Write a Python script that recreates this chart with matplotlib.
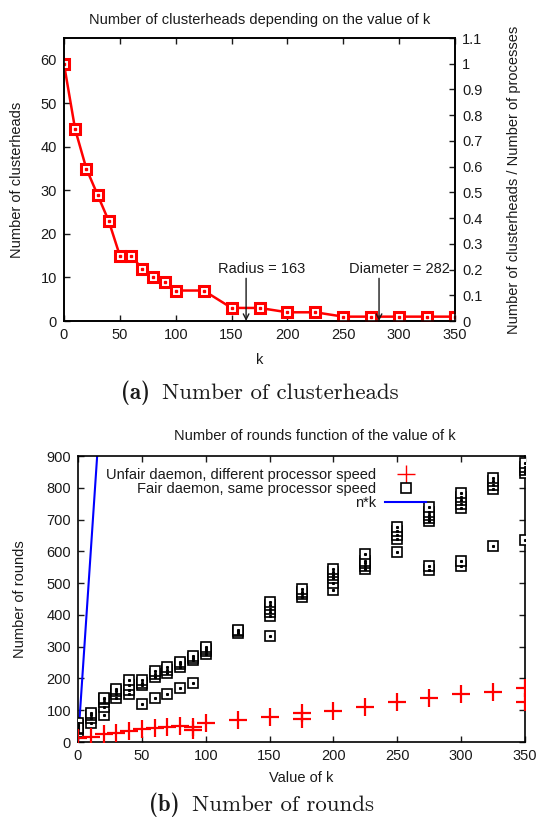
import matplotlib
matplotlib.use("Agg")
import matplotlib.pyplot as plt
from matplotlib.ticker import FormatStrFormatter

plt.rcParams['font.family'] = ['Liberation Sans', 'DejaVu Sans']

# top chart: clusterheads vs k
k_vals = [0, 10, 20, 30, 40, 50, 60, 70, 80, 90, 100, 125, 150, 175, 200, 225, 250, 275, 300, 325, 350]
clusterheads = [59, 44, 35, 29, 23, 15, 15, 12, 10, 9, 7, 7, 3, 3, 2, 2, 1, 1, 1, 1, 1]
radius = 163
diameter = 282

# bottom chart: rounds vs k
fair_k = [0, 10, 20, 30, 40, 50, 60, 70, 80, 90, 100, 125, 150, 175, 200, 225, 250, 275, 300, 325, 350]
fair_rounds = [
    [30, 40, 50, 55, 60, 45],
    [60, 75, 85, 90],
    [85, 110, 125, 135, 140],
    [140, 150, 160, 168],
    [150, 165, 178, 195],
    [120, 178, 185, 195],
    [140, 205, 215, 222],
    [150, 218, 228, 236],
    [170, 235, 245, 252],
    [185, 258, 265, 272],
    [278, 285, 292, 298],
    [343, 348, 352],
    [332, 395, 410, 420, 430, 440],
    [455, 465, 472, 480],
    [478, 500, 515, 525, 535, 545],
    [545, 555, 562, 570, 592],
    [598, 640, 652, 665, 678],
    [540, 555, 695, 705, 715, 725, 740],
    [553, 570, 735, 748, 760, 772, 782],
    [617, 795, 808, 820, 832],
    [636, 845, 855, 865, 878],
]
unfair_k = [0, 10, 20, 30, 40, 50, 60, 70, 80, 90, 90, 100, 125, 150, 175, 175, 200, 225, 250, 275, 300, 325, 350, 350]
unfair_rounds = [13, 16, 24, 29, 35, 40, 43, 47, 51, 38, 47, 60, 69, 79, 90, 72, 98, 111, 125, 139, 150, 158, 169, 127]
n_procs = 60

txt = '#1a1a1a'
fs = 10.5
fig = plt.figure(figsize=(5.36, 8.25), dpi=100)

def style(ax):
    ax.tick_params(direction='in', length=4, width=1, colors=txt, labelsize=fs, pad=5)
    for s in ax.spines.values():
        s.set_linewidth(1.2)

def caption(x_split, y, tag, rest):
    # bold tag + roman text, like a LaTeX subfigure caption
    fig.text((x_split - 6) / 536, 1 - y / 825, tag, family='cmb10', fontsize=16.5,
             ha='right', va='center', color=txt)
    fig.text((x_split + 6) / 536, 1 - y / 825, rest, family='cmr10', fontsize=16.5,
             ha='left', va='center', color=txt)

# ---- (a)
ax1 = fig.add_axes([64/536, 1-321/825, (455-64)/536, (321-38)/825])
ax1.plot(k_vals, clusterheads, color='red', lw=1.8, marker='s', ms=7.5, mfc='white', mec='red', mew=2.2, zorder=3)
ax1.plot(k_vals, clusterheads, ls='none', marker='s', ms=1.5, color='red', zorder=4)
ax1.set_xlim(0, 350)
ax1.set_ylim(0, 65)
ax1.set_xticks(range(0, 351, 50))
ax1.set_yticks(range(0, 61, 10))
ax1.tick_params(top=True)
style(ax1)
ax1.set_xlabel('k', fontsize=fs, color=txt, labelpad=8)
ax1.set_ylabel('Number of clusterheads', fontsize=fs, color=txt, labelpad=12)
ax1.set_title('Number of clusterheads depending on the value of k', fontsize=fs, color=txt, pad=10)

# radius / diameter markers: vertical arrows, label offset to the right
for val, name, tx in [(radius, 'Radius', 177), (diameter, 'Diameter', 300)]:
    ax1.annotate('', xy=(val, 0), xytext=(val, 9.8),
                 arrowprops=dict(arrowstyle='->', color=txt, lw=1, shrinkA=0, shrinkB=0))
    ax1.text(tx, 10.4, '%s = %d' % (name, val), ha='center', va='bottom', fontsize=fs, color=txt)

ax1r = ax1.twinx()
ax1r.set_ylim(0, 1.1)
ax1r.set_yticks([i / 10 for i in range(12)])
ax1r.yaxis.set_major_formatter(FormatStrFormatter('%g'))
style(ax1r)
ax1r.set_ylabel('Number of clusterheads / Number of processes', fontsize=fs, color=txt, labelpad=18)

caption(156, 393, '(a)', 'Number of clusterheads')

# ---- (b)
ax2 = fig.add_axes([78/536, 1-742/825, (525-78)/536, (742-456)/825])
ax2.plot([0, 900 / n_procs], [0, 900], color='blue', lw=1.5, zorder=2)
for k, vals in zip(fair_k, fair_rounds):
    ax2.plot([k] * len(vals), vals, ls='none', marker='s', ms=7, mfc='white', mec='black', mew=1.2, zorder=3)
    ax2.plot([k] * len(vals), vals, ls='none', marker='s', ms=1.2, color='black', zorder=4)
ax2.plot(unfair_k, unfair_rounds, ls='none', marker='+', ms=13, mew=1.6, color='red', zorder=5)

h_unfair, = ax2.plot([], [], ls='none', marker='+', ms=13, mew=1, color='red')
h_fair, = ax2.plot([], [], ls='none', marker='s', ms=7, mfc='white', mec='black', mew=1.2)
h_nk, = ax2.plot([], [], color='blue', lw=1.5)
ax2.legend([h_unfair, h_fair, h_nk],
           ['Unfair daemon, different processor speed', 'Fair daemon, same processor speed', 'n*k'],
           loc='upper right', bbox_to_anchor=(0.805, 1.0), markerfirst=False, frameon=False,
           fontsize=fs, labelspacing=0.0, handlelength=2.8, handletextpad=0.6, borderpad=0.3,
           labelcolor=txt)

ax2.set_xlim(0, 350)
ax2.set_ylim(0, 900)
ax2.set_xticks(range(0, 351, 50))
ax2.set_yticks(range(0, 901, 100))
ax2.tick_params(top=True, right=True)
style(ax2)
ax2.set_xlabel('Value of k', fontsize=fs, color=txt, labelpad=6)
ax2.set_ylabel('Number of rounds', fontsize=fs, color=txt, labelpad=14)
fig.text(315/536, 1-436/825, 'Number of rounds function of the value of k', fontsize=fs,
         ha='center', va='center', color=txt)

caption(186, 805, '(b)', 'Number of rounds')

fig.savefig('out.png', dpi=100)
